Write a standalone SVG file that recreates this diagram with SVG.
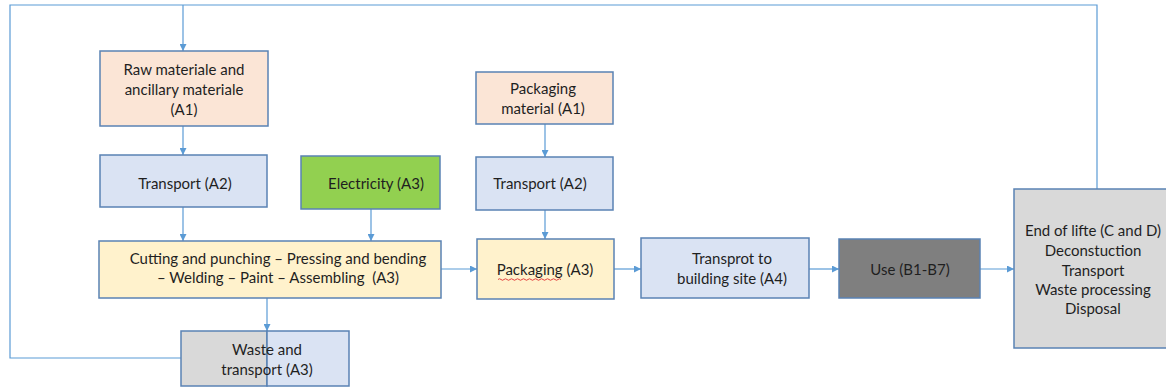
<svg xmlns="http://www.w3.org/2000/svg" width="1166" height="390" viewBox="0 0 1166 390">
<style>
.box{stroke:#5A82B4;stroke-width:1.5}
.raw{fill:#FBE5D6}
.tr{fill:#DAE3F3}
.el{fill:#92D050}
.cut{fill:#FFF2CC}
.use{fill:#7F7F7F}
.eol{fill:#D9D9D9}
.t{font-family:Lato,"Liberation Sans",sans-serif;font-size:15px;fill:#1F1F1F;text-anchor:middle;dominant-baseline:central;white-space:pre}
.c{fill:none;stroke:#5B9BD5;stroke-width:1.2}
.ca{fill:none;stroke:#5B9BD5;stroke-width:1.2;marker-end:url(#ah)}
</style>
<defs>
<marker id="ah" viewBox="0 0 8 8" refX="8" refY="4" markerUnits="userSpaceOnUse" markerWidth="7" markerHeight="7" orient="auto">
<path d="M0,0 L8,4 L0,8 z" fill="#5B9BD5"/>
</marker>
</defs>
<rect width="1166" height="390" fill="#FFFFFF"/>
<g id="connectors">
<path class="c" d="M181,358 H10 V5 H1097 V189"/>
<path class="ca" d="M183,5 V51"/>
<path class="ca" d="M183,126 V155"/>
<path class="ca" d="M183,207 V241"/>
<path class="ca" d="M371,209 V241"/>
<path class="ca" d="M267,298 V331"/>
<path class="ca" d="M441,269 H477"/>
<path class="ca" d="M545,124 V157"/>
<path class="ca" d="M545,210 V239"/>
<path class="ca" d="M614,269 H641"/>
<path class="ca" d="M809,269 H839"/>
<path class="ca" d="M980,269 H1014"/>
</g>
<g id="raw">
<rect class="box raw" x="100" y="51" width="168" height="75"/>
<text class="t" x="184" y="69">Raw materiale and</text>
<text class="t" x="184" y="89">ancillary materiale</text>
<text class="t" x="184" y="109">(A1)</text>
</g>
<g id="transport1">
<rect class="box tr" x="100" y="155" width="167" height="52"/>
<text class="t" x="185" y="183">Transport (A2)</text>
</g>
<g id="electricity">
<rect class="box el" x="301" y="156" width="139" height="53"/>
<text class="t" x="376" y="183">Electricity (A3)</text>
</g>
<g id="cutting">
<rect class="box cut" x="99" y="241" width="342" height="57"/>
<text class="t" x="278" y="258">Cutting and punching – Pressing and bending</text>
<text class="t" x="278" y="277" xml:space="preserve">– Welding – Paint – Assembling  (A3)</text>
</g>
<g id="waste">
<rect class="box eol" x="181" y="331" width="86" height="55"/>
<rect class="box tr" x="267" y="331" width="82" height="55"/>
<text class="t" x="267" y="349">Waste and</text>
<text class="t" x="267" y="369">transport (A3)</text>
</g>
<g id="packmat">
<rect class="box raw" x="476" y="72" width="137" height="52"/>
<text class="t" x="543" y="88">Packaging</text>
<text class="t" x="543" y="108">material (A1)</text>
</g>
<g id="transport2">
<rect class="box tr" x="476" y="157" width="137" height="53"/>
<text class="t" x="540" y="183">Transport (A2)</text>
</g>
<g id="packaging">
<rect class="box cut" x="477" y="239" width="137" height="60"/>
<text class="t" x="545" y="269">Packaging (A3)</text>
<path d="M498,279.5 q1.5,-1.5 3,0 t3,0 t3,0 t3,0 t3,0 t3,0 t3,0 t3,0 t3,0 t3,0 t3,0 t3,0 t3,0 t3,0 t3,0 t3,0 t3,0 t3,0 t3,0 t3,0 t3,0" fill="none" stroke="#E03030" stroke-width="0.9"/>
</g>
<g id="transprot">
<rect class="box tr" x="641" y="238" width="168" height="60"/>
<text class="t" x="732" y="258">Transprot to</text>
<text class="t" x="732" y="278">building site (A4)</text>
</g>
<g id="use">
<rect class="box use" x="839" y="239" width="141" height="59"/>
<text class="t" x="910" y="269">Use (B1-B7)</text>
</g>
<g id="eol">
<rect class="box eol" x="1014" y="189" width="160" height="159"/>
<text class="t" x="1093" y="230">End of lifte (C and D)</text>
<text class="t" x="1093" y="250">Deconstuction</text>
<text class="t" x="1093" y="270">Transport</text>
<text class="t" x="1093" y="289">Waste processing</text>
<text class="t" x="1093" y="308">Disposal</text>
</g>
</svg>
